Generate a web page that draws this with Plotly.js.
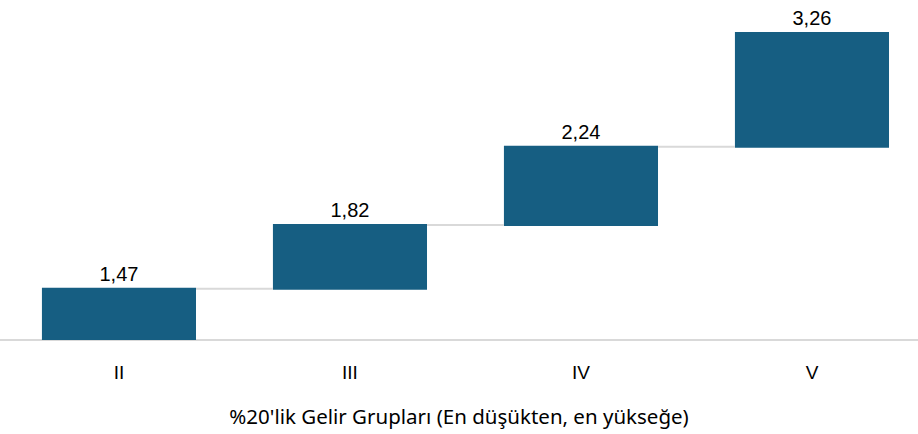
<!DOCTYPE html>
<html>
<head>
<meta charset="utf-8">
<script src="https://cdn.plot.ly/plotly-3.0.1.min.js"></script>
<style>html,body{margin:0;padding:0;background:#fff;}#chart{width:918px;height:434px;}</style>
</head>
<body>
<div id="chart"></div>
<script>
const categories = ["II", "III", "IV", "V"];
const values = [1.47, 1.82, 2.24, 3.26];
const labels = ["1,47", "1,82", "2,24", "3,26"];
const xTitle = "%20'lik Gelir Grupları (En düşükten, en yükseğe)";

const trace = {
  type: "waterfall",
  x: categories,
  y: values,
  measure: categories.map(() => "relative"),
  text: labels,
  textposition: "outside",
  textfont: {family: "Liberation Sans, Arial, sans-serif", size: 20, color: "#000"},
  cliponaxis: false,
  hoverinfo: "none",
  width: 0.667,
  increasing: {marker: {color: "#165E82"}},
  decreasing: {marker: {color: "#165E82"}},
  totals: {marker: {color: "#165E82"}},
  connector: {line: {color: "#D9D9D9", width: 2}}
};

const layout = {
  width: 918, height: 434,
  margin: {l: 0, r: 0, t: 12, b: 94},
  paper_bgcolor: "#fff", plot_bgcolor: "#fff",
  showlegend: false,
  xaxis: {
    type: "category",
    range: [-0.515, 3.459],
    showgrid: false, zeroline: false,
    showline: false,
    ticks: "",
    ticklabelstandoff: 19,
    tickfont: {family: "Liberation Sans, Arial, sans-serif", size: 19, color: "#000"},
    title: {text: xTitle, font: {family: "Noto Sans, Inter, sans-serif", size: 20.5, color: "#000"}, standoff: 27}
  },
  yaxis: {
    range: [0, 9.39],
    showgrid: false, zeroline: true, zerolinecolor: "#D9D9D9", zerolinewidth: 2,
    showticklabels: false, ticks: "", showline: false
  }
};

Plotly.newPlot("chart", [trace], layout, {displayModeBar: false, staticPlot: true});
</script>
</body>
</html>
